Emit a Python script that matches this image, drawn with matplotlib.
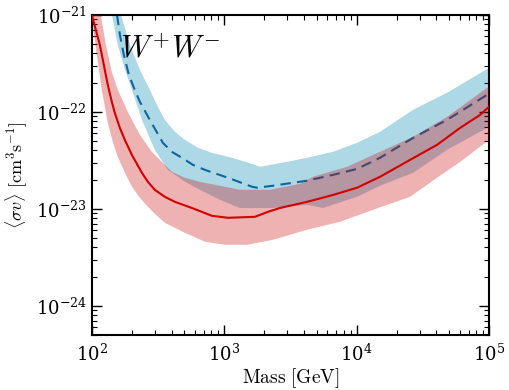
import numpy as np
import matplotlib
matplotlib.use("Agg")
import matplotlib.pyplot as plt

plt.rcParams['mathtext.fontset'] = 'cm'
plt.rcParams['font.family'] = 'serif'
plt.rcParams['font.serif'] = ['DejaVu Serif']

# limite W+W- (ligne rouge) et bande
m_red = [100, 107.2, 115, 123.2, 132, 141.6, 149, 162.8, 178, 200.6, 239, 265, 299,
         356, 424, 570, 807, 1067, 1706, 2140, 2636, 4218, 6634, 10070, 15030,
         25350, 40500, 60500, 85700, 100000]
sv_red = [1.0e-21, 7.0e-22, 4.9e-22, 3.05e-22, 1.9e-22, 1.27e-22, 9.8e-23, 6.84e-23,
          5.1e-23, 3.6e-23, 2.35e-23, 1.9e-23, 1.57e-23, 1.33e-23, 1.18e-23, 1.02e-23,
          8.47e-24, 8.08e-24, 8.27e-24, 9.31e-24, 1.02e-23, 1.18e-23, 1.39e-23,
          1.65e-23, 2.14e-23, 3.2e-23, 4.57e-23, 6.84e-23, 9.31e-23, 1.13e-22]

m_red_lo = [100, 109.1, 119, 132, 144, 157, 178, 201, 230.6, 265, 304.6, 356, 505,
            715, 1012, 1485, 2333, 4218, 7500, 13300, 25350, 40500, 60500, 100000]
sv_red_lo = [9.5e-22, 3.87e-22, 1.69e-22, 7.71e-23, 4.91e-23, 3.44e-23, 2.35e-23,
             1.69e-23, 1.3e-23, 1.05e-23, 8.67e-24, 7.18e-24, 5.66e-24, 4.57e-24,
             4.26e-24, 4.26e-24, 4.79e-24, 6.08e-24, 7.35e-24, 9.77e-24, 1.33e-23,
             2.09e-23, 3.05e-23, 5.14e-23]

m_red_up = [100, 117, 127.6, 141.6, 157, 187, 230.6, 284, 356, 403, 505, 655, 1314,
            2215, 3735, 4680, 8460, 15030, 26680, 48200, 96800, 100000]
sv_red_up = [1.3e-21, 1.0e-21, 4.91e-22, 2.58e-22, 1.69e-22, 1.0e-22, 5.79e-23,
             3.87e-23, 2.84e-23, 2.41e-23, 2.09e-23, 1.9e-23, 1.57e-23, 1.57e-23,
             1.81e-23, 2.14e-23, 2.71e-23, 3.87e-23, 5.52e-23, 8.87e-23, 1.77e-22,
             1.81e-22]

# limite en pointillés bleus et bande
m_blue = [155, 163, 174.5, 190.5, 207.8, 230.6, 274, 344, 402.5, 479, 580, 715,
          1067, 1619, 1767, 2333, 4218, 6634, 10070, 15030, 26680, 48200, 96800,
          100000]
sv_blue = [1.0e-21, 6.22e-22, 3.87e-22, 2.41e-22, 1.77e-22, 1.27e-22, 8.28e-23,
           4.79e-23, 3.87e-23, 3.36e-23, 2.84e-23, 2.52e-23, 2.09e-23, 1.69e-23,
           1.65e-23, 1.73e-23, 1.95e-23, 2.24e-23, 2.58e-23, 3.36e-23, 5.39e-23,
           8.28e-23, 1.5e-22, 1.53e-22]

m_blue_up = [166, 193.8, 230.6, 274, 315, 356, 424, 505, 633, 807, 1143, 1706, 1862,
             2979, 4218, 6634, 10070, 15030, 26680, 48200, 100000]
sv_blue_up = [1.0e-21, 4.91e-22, 2.71e-22, 1.69e-22, 1.13e-22, 8.28e-23, 6.22e-23,
              5.14e-23, 4.26e-23, 3.78e-23, 3.36e-23, 2.84e-23, 2.71e-23, 3.05e-23,
              3.36e-23, 3.87e-23, 4.79e-23, 6.22e-23, 1.05e-22, 1.57e-22, 2.84e-22]

m_blue_lo = [142, 157, 178, 201, 239, 299, 375, 505, 655, 928, 1314, 2333, 4218,
             5570, 10070, 15030, 26680, 48200, 100000]
sv_blue_lo = [1.0e-21, 4.91e-22, 2.71e-22, 1.69e-22, 8.28e-23, 4.06e-23, 2.52e-23,
              1.9e-23, 1.57e-23, 1.24e-23, 1.02e-23, 1.02e-23, 1.1e-23, 1.02e-23,
              1.33e-23, 1.73e-23, 2.35e-23, 4.06e-23, 7.01e-23]

fig = plt.figure(figsize=(5.1, 3.9), dpi=100)
ax = fig.add_axes([0.180, 0.141, 0.779, 0.821])

# bande bleue (opaque) puis pointillés
ax.fill(np.concatenate([m_blue_up, m_blue_lo[::-1]]),
        np.concatenate([sv_blue_up, sv_blue_lo[::-1]]),
        color='#add8e6', lw=0, zorder=1)
ax.plot(m_blue, sv_blue, color='#10659e', lw=1.5, dashes=(5, 3), zorder=2)

# bande rouge transparente par dessus
ax.fill(np.concatenate([m_red_up, m_red_lo[::-1]]),
        np.concatenate([sv_red_up, sv_red_lo[::-1]]),
        color='#cc0000', alpha=0.3, lw=0, zorder=3)
ax.plot(m_red, sv_red, color='#d40000', lw=1.5, zorder=4)

ax.set_xscale('log')
ax.set_yscale('log')
ax.set_xlim(100, 1e5)
ax.set_ylim(5e-25, 1e-21)

ax.text(0.07, 0.866, r'$W^{+}W^{-}$', transform=ax.transAxes, fontsize=22,
        va='baseline', ha='left')

ax.set_xlabel(r'$\mathrm{Mass\ [GeV]}$', fontsize=14, labelpad=1)
ax.set_ylabel(r'$\langle \sigma v\rangle\ [\mathrm{cm}^3\mathrm{s}^{-1}]$', fontsize=13, labelpad=4)

ax.tick_params(which='both', direction='in', top=True, right=True, labelsize=13)
ax.tick_params(which='major', length=7, width=1)
ax.tick_params(which='minor', length=3.5, width=0.8)
ax.tick_params(axis='x', pad=6)
for s in ax.spines.values():
    s.set_linewidth(1.5)

plt.savefig('out.png', dpi=100)
